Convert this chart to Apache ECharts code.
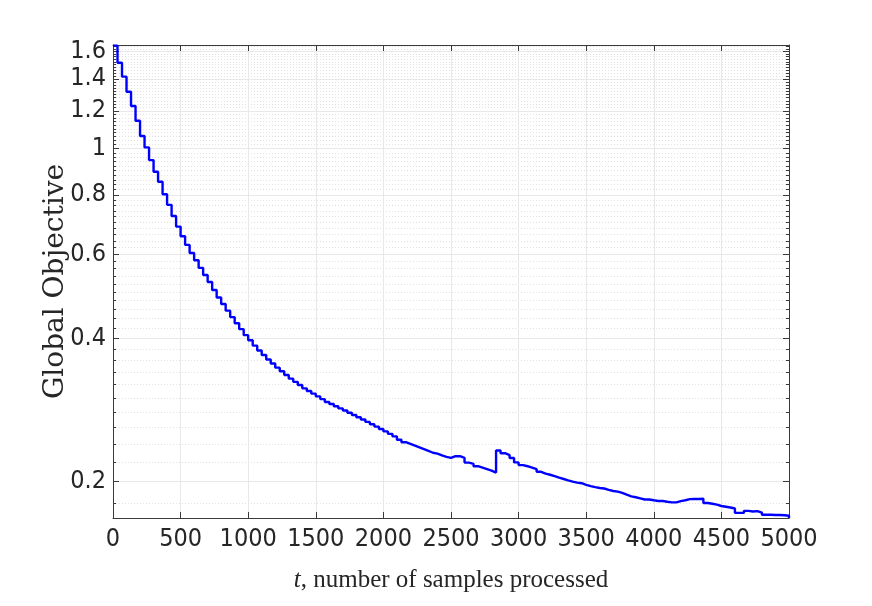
<!DOCTYPE html>
<html><head><meta charset="utf-8">
<script src="https://cdn.jsdelivr.net/npm/echarts@6/dist/echarts.min.js"></script>
<style>html,body{margin:0;padding:0;background:#fff}#c{width:872px;height:606px}</style>
</head><body><div id="c"></div>
<script>
// samples processed between two evaluations of the objective (stairs plot)
const sampleStep = 100 / 3;
// global objective value held on each stair
const objective = [
  1.645, 1.514, 1.416, 1.316, 1.229, 1.144, 1.063, 1.006, 0.946, 0.894,
  0.852, 0.802, 0.762, 0.722, 0.686, 0.655, 0.628, 0.604, 0.583, 0.562,
  0.543, 0.525, 0.505, 0.487, 0.472, 0.457, 0.443, 0.430, 0.418, 0.406,
  0.396, 0.386, 0.377, 0.369, 0.361, 0.354, 0.347, 0.341, 0.335, 0.329,
  0.324, 0.319, 0.314, 0.310, 0.306, 0.302, 0.298, 0.294, 0.291, 0.288,
  0.285, 0.282, 0.279, 0.276, 0.273, 0.270, 0.267, 0.264, 0.261, 0.258,
  0.255, 0.252, 0.249, 0.245, 0.242, 0.240, 0.238, 0.236, 0.234, 0.232,
  0.230, 0.229, 0.227, 0.2255, 0.2243, 0.2262, 0.2262, 0.2245, 0.2193, 0.218,
  0.2155, 0.214, 0.2125, 0.211, 0.209, 0.2325, 0.2295, 0.2275, 0.2243, 0.2195,
  0.2167, 0.2155, 0.214, 0.2125, 0.2098, 0.208, 0.2068, 0.2055, 0.204, 0.2026,
  0.2012, 0.200, 0.1991, 0.1985, 0.197, 0.1958, 0.1948, 0.194, 0.1935, 0.1922,
  0.1912, 0.1906, 0.1895, 0.1878, 0.1863, 0.1855, 0.1845, 0.1835, 0.1835, 0.1828,
  0.1822, 0.1822, 0.1815, 0.181, 0.181, 0.1821, 0.1828, 0.1838, 0.184, 0.184,
  0.1842, 0.1804, 0.1798, 0.179, 0.1778, 0.1772, 0.1765, 0.1757, 0.172, 0.172,
  0.1737, 0.1732, 0.1735, 0.1722, 0.1704, 0.1704, 0.1702, 0.1702, 0.170, 0.1696,
  0.1678
];
const xTicks = [0, 500, 1000, 1500, 2000, 2500, 3000, 3500, 4000, 4500, 5000];
const yMajorTicks = [0.2, 0.4, 0.6, 0.8, 1, 1.2, 1.4, 1.6];
const yMajorLabels = ['0.2', '0.4', '0.6', '0.8', '1', '1.2', '1.4', '1.6'];
const yRange = [0.1678, 1.65];
const xRange = [0, 5000];
const xTitle = '{i|t}, number of samples processed';
const yTitle = 'Global Objective';

// minor grid every 0.02 (log axis minor grid)
const yMinorTicks = [];
for (let k = 9; k <= 82; k++) {
  const v = k / 50;
  if (k % 10 !== 0 && v > yRange[0] && v < yRange[1]) yMinorTicks.push(v);
}

const L = Math.log10;
const yMin = L(yRange[0]), yMax = L(yRange[1]);
const majorLog = yMajorTicks.map(L);
const minorLog = yMinorTicks.map(L);

const axisColor = '#3a3a3a';
const labelFont = "'Liberation Sans Narrow', 'DejaVu Sans Condensed', 'Liberation Sans', sans-serif";

function yLabel(v) {
  let best = 0;
  for (let i = 0; i < majorLog.length; i++) if (Math.abs(majorLog[i] - v) < Math.abs(majorLog[best] - v)) best = i;
  return yMajorLabels[best];
}

const seriesData = objective.map((v, i) => [i * sampleStep, L(v)]);

const baseY = {
  type: 'value', min: yMin, max: yMax, scale: true,
  axisLine: { show: false, onZero: false },
  axisLabel: { show: false },
  splitLine: { show: false }
};

const chart = echarts.init(document.getElementById('c'), null, { renderer: 'canvas' });
chart.setOption({
  animation: false,
  backgroundColor: '#ffffff',
  grid: { left: 113, right: 83, top: 45, bottom: 88, containLabel: false, outerBoundsMode: 'none' },
  xAxis: [
    {
      type: 'value', min: xRange[0], max: xRange[1], interval: 500, position: 'bottom',
      axisLine: { show: true, onZero: false, lineStyle: { color: axisColor, width: 1 } },
      axisTick: { show: true, inside: true, length: 6, lineStyle: { color: axisColor } },
      axisLabel: { show: true, margin: 9, fontSize: 25, fontFamily: labelFont, color: '#262626',
        customValues: xTicks, formatter: v => String(Math.round(v)) },
      splitLine: { show: true, lineStyle: { color: '#e8e8e8', width: 1 } },
      name: xTitle, nameLocation: 'middle', nameGap: 50, nameMoveOverlap: false,
      nameTextStyle: { fontFamily: "'Liberation Serif', serif", fontSize: 25, color: '#262626',
        rich: { i: { fontStyle: 'italic', fontFamily: "'Liberation Serif', serif", fontSize: 25, color: '#262626' } } }
    },
    {
      type: 'value', min: xRange[0], max: xRange[1], interval: 500, position: 'top',
      axisLine: { show: true, onZero: false, lineStyle: { color: axisColor, width: 1 } },
      axisTick: { show: true, inside: true, length: 6, lineStyle: { color: axisColor } },
      axisLabel: { show: false },
      splitLine: { show: false }
    }
  ],
  yAxis: [
    Object.assign({}, baseY, {
      position: 'left',
      axisLine: { show: true, onZero: false, lineStyle: { color: axisColor, width: 1 } },
      axisTick: { show: true, inside: true, length: 6, customValues: majorLog, lineStyle: { color: axisColor } },
      axisLabel: { show: true, margin: 7, fontSize: 25, fontFamily: labelFont, color: '#262626',
        customValues: majorLog, formatter: yLabel },
      splitLine: { show: true, lineStyle: { color: '#e8e8e8', width: 1 } },
      name: yTitle, nameLocation: 'middle', nameGap: 43, nameRotate: 90, nameMoveOverlap: false,
      nameTextStyle: { fontFamily: "'DejaVu Serif', serif", fontSize: 28, color: '#262626' }
    }),
    Object.assign({}, baseY, {
      position: 'left',
      axisTick: { show: true, inside: true, length: 3, customValues: minorLog, lineStyle: { color: axisColor } },
      splitLine: { show: true, lineStyle: { color: '#e2e2e2', width: 1, type: [1, 2] } }
    }),
    Object.assign({}, baseY, {
      position: 'right',
      axisLine: { show: true, onZero: false, lineStyle: { color: axisColor, width: 1 } },
      axisTick: { show: true, inside: true, length: 6, customValues: majorLog, lineStyle: { color: axisColor } }
    }),
    Object.assign({}, baseY, {
      position: 'right',
      axisTick: { show: true, inside: true, length: 3, customValues: minorLog, lineStyle: { color: axisColor } }
    })
  ],
  series: [{
    type: 'line', xAxisIndex: 0, yAxisIndex: 0,
    step: 'end', showSymbol: false, symbol: 'none',
    data: seriesData,
    lineStyle: { color: '#0000ff', width: 2.4 },
    z: 10
  }]
});
</script>
</body></html>
